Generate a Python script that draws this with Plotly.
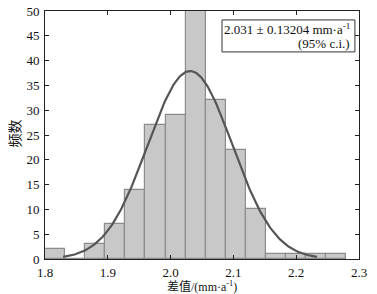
import numpy as np
import plotly.graph_objects as go

# Histogram data (bin edges start, bin width, counts)
bin_start = 1.8
bin_width = 0.032
counts = [2, 0, 3, 7, 14, 27, 29, 50, 32, 22, 10, 1, 1, 1, 1]
fit_mean = 2.031
fit_ci95 = 0.13204
x_ticks = [1.8, 1.9, 2.0, 2.1, 2.2, 2.3]
y_ticks = [0, 5, 10, 15, 20, 25, 30, 35, 40, 45, 50]

centers = [bin_start + bin_width * (i + 0.5) for i in range(len(counts))]
sigma = fit_ci95 / 1.96
N = sum(counts)
xc = np.linspace(fit_mean - 3 * sigma, fit_mean + 3 * sigma, 200)
yc = N * bin_width / (sigma * np.sqrt(2 * np.pi)) * np.exp(-(xc - fit_mean) ** 2 / (2 * sigma ** 2))

fig = go.Figure()
fig.add_trace(go.Bar(x=centers, y=counts, width=bin_width,
                     marker=dict(color="#c8c8c8", line=dict(color="#8c8c8c", width=1.2)),
                     showlegend=False))
fig.add_trace(go.Scatter(x=xc, y=yc, mode="lines", line=dict(color="#555555", width=2.2),
                         showlegend=False))

font = "Liberation Serif, Noto Sans CJK SC, serif"
axis_common = dict(showline=True, linecolor="#222", linewidth=1, mirror="ticks",
                   ticks="inside", ticklen=4, tickcolor="#222", showgrid=False, zeroline=False,
                   automargin=False,
                   tickfont=dict(family=font, size=13, color="#111"))
fig.update_xaxes(range=[1.8, 2.3], tickvals=x_ticks, tickformat=".1f",
                 ticklabelstandoff=1, **axis_common)
fig.update_yaxes(range=[0, 50], tickvals=y_ticks, ticklabelstandoff=2, **axis_common)
fig.add_annotation(xref="paper", yref="paper", x=0.5, y=0, yshift=-18, xanchor="center", yanchor="top",
                   text="差值/(mm·a<sup>-1</sup>)", showarrow=False,
                   font=dict(family=font, size=12, color="#111"))
fig.add_annotation(xref="paper", yref="paper", x=0, xshift=-20, y=0.504, xanchor="right", yanchor="middle",
                   text="频数", textangle=-90, showarrow=False,
                   font=dict(family=font, size=14, color="#111"))
# legend-like box
fig.add_shape(type="rect", xref="paper", yref="paper", x0=0.5637, x1=0.987, y0=0.835, y1=0.964,
              line=dict(color="#333", width=1), fillcolor="white", layer="above")
fig.add_annotation(xref="paper", yref="paper", x=0.978, y=0.927, xanchor="right", yanchor="middle",
                   text="2.031 ± 0.13204 mm·a<sup>-1</sup>", showarrow=False,
                   font=dict(family=font, size=13, color="#111"))
fig.add_annotation(xref="paper", yref="paper", x=0.978, y=0.867, xanchor="right", yanchor="middle",
                   text="(95% c.i.)", showarrow=False,
                   font=dict(family=font, size=13, color="#111"))
fig.update_layout(width=377, height=294, margin=dict(l=45, r=18, t=11, b=35),
                  plot_bgcolor="white", paper_bgcolor="white", bargap=0)
fig.write_html("out.html", config={"displayModeBar": False},
               post_script="document.body.style.margin='0';")
